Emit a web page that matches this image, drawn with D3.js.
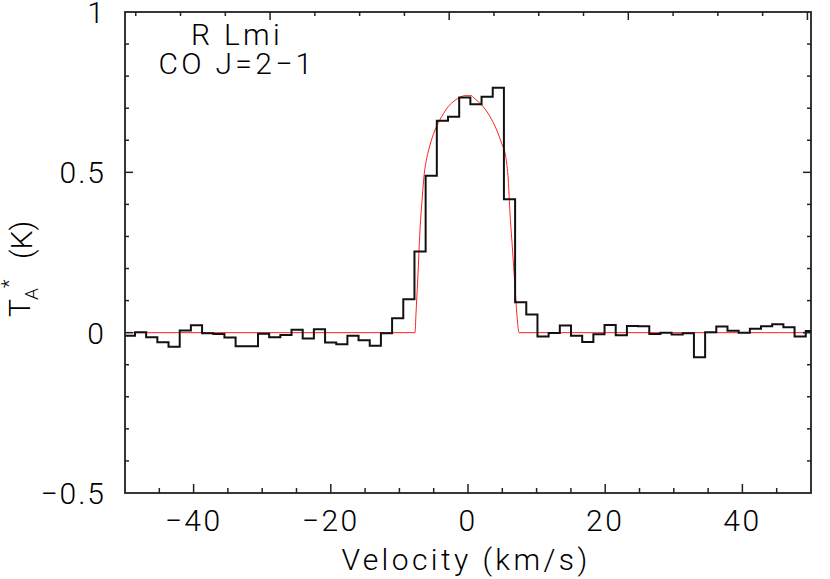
<!DOCTYPE html>
<html><head><meta charset="utf-8">
<script src="https://cdn.jsdelivr.net/npm/d3@7"></script>
<style>
body{margin:0;background:#fff}
text{font-family:Roboto,'DejaVu Sans',sans-serif;font-weight:300;fill:#000}
</style>
</head><body><svg id="c" width="830" height="579"></svg>
<script>
// Channel centre velocities (km/s)
const velocity = [-49.36,-47.73,-46.10,-44.47,-42.84,-41.21,-39.58,-37.95,-36.32,-34.69,
  -33.06,-31.43,-29.80,-28.17,-26.54,-24.91,-23.28,-21.65,-20.02,-18.39,
  -16.77,-15.14,-13.51,-11.88,-10.25,-8.62,-6.99,-5.36,-3.73,-2.10,
  -0.47,1.16,2.79,4.42,6.05,7.68,9.31,10.94,12.57,14.20,
  15.83,17.46,19.09,20.72,22.35,23.98,25.61,27.24,28.86,30.49,
  32.12,33.75,35.38,37.01,38.64,40.27,41.90,43.53,45.16,46.79,48.42,50.05];
// Antenna temperature T_A* (K)
const antennaTemp = [-0.010,0.001,-0.014,-0.030,-0.044,0.007,0.023,-0.002,-0.004,-0.015,
  -0.042,-0.042,-0.003,-0.014,-0.007,0.009,-0.018,0.011,-0.031,-0.036,
  -0.010,-0.024,-0.041,-0.002,0.045,0.104,0.253,0.489,0.661,0.673,
  0.733,0.712,0.736,0.764,0.416,0.095,0.057,-0.012,-0.001,0.022,
  -0.010,-0.029,-0.005,0.024,-0.008,0.021,0.020,-0.004,0.000,-0.006,
  -0.002,-0.077,0.001,0.019,0.006,0.000,0.012,0.020,0.026,0.017,-0.012,0.005];
// Fitted model profile (red)
const modelVelocity = [-50,-7.73,-7.58,-7.33,-7.00,-6.66,-6.37,-6.02,-5.54,-4.81,-3.83,-2.87,-1.65,-0.44,
  0.54,0.77,2.00,3.21,4.18,4.91,5.50,5.87,6.12,6.46,6.85,7.19,7.43,50];
const modelTemp = [0,0,0.06,0.164,0.320,0.424,0.497,0.543,0.585,0.632,0.674,0.705,0.728,0.739,
  0.739,0.734,0.710,0.674,0.632,0.590,0.549,0.476,0.372,0.268,0.143,0.040,0,0];

const xDomain = [-50, 50];
const yDomain = [-0.5, 1];
const xTickValues = [-40,-20,0,20,40];
const xTickLabels = ["−40","−20","0","20","40"];
const yTickValues = [-0.5,0,0.5,1];
const yTickLabels = ["−0.5","0","0.5","1"];
const topDomain = [-16.2, 60.4]; // frequency offset (MHz), unlabeled top axis
const titleLines = ["R Lmi","CO J=2−1"];

const L=125, R=811, T=12, B=493;
const svg = d3.select("#c");
const x = d3.scaleLinear().domain(xDomain).range([L,R]);
const y = d3.scaleLinear().domain(yDomain).range([B,T]);
const xt = d3.scaleLinear().domain(topDomain).range([L,R]);

svg.append("defs").append("clipPath").attr("id","clip")
  .append("rect").attr("x",L).attr("y",T).attr("width",R-L).attr("height",B-T);

// model
svg.append("path")
  .datum(modelVelocity.map((v,i)=>[v,modelTemp[i]]))
  .attr("clip-path","url(#clip)")
  .attr("fill","none").attr("stroke","#ff2020").attr("stroke-width",1)
  .attr("d", d3.line().x(d=>x(d[0])).y(d=>y(d[1])).curve(d3.curveMonotoneX));

// histogram
const pts = [];
velocity.forEach((v,i)=>{
  const lw = i>0 ? (v-velocity[i-1])/2 : (velocity[1]-velocity[0])/2;
  const rw = i<velocity.length-1 ? (velocity[i+1]-v)/2 : (v-velocity[i-1])/2;
  pts.push([v-lw, antennaTemp[i]]); pts.push([v+rw, antennaTemp[i]]);
});
svg.append("path").datum(pts)
  .attr("clip-path","url(#clip)")
  .attr("fill","none").attr("stroke","#111").attr("stroke-width",2)
  .attr("stroke-linejoin","miter")
  .attr("d", d3.line().x(d=>x(d[0])).y(d=>y(d[1])));

// ticks
const tk = svg.append("g").attr("stroke","#222").attr("stroke-width",1.5);
d3.range(-45,50,5).forEach(v=>{
  const maj = xTickValues.includes(v);
  tk.append("line").attr("x1",x(v)).attr("x2",x(v)).attr("y1",B).attr("y2",B-(maj?9:5));
});
d3.range(-15,61,5).forEach(f=>{
  if (xt(f)<L+2||xt(f)>R) return;
  const maj = f%20===0;
  tk.append("line").attr("x1",xt(f)).attr("x2",xt(f)).attr("y1",T).attr("y2",T+(maj?8:4));
});
d3.range(-4,10).forEach(j=>{
  const v=j/10; const maj = Math.abs(v*2-Math.round(v*2))<1e-6;
  const len = maj?8:4;
  tk.append("line").attr("x1",L).attr("x2",L+len).attr("y1",y(v)).attr("y2",y(v));
  tk.append("line").attr("x1",R).attr("x2",R-len).attr("y1",y(v)).attr("y2",y(v));
});

// frame
svg.append("rect").attr("x",L).attr("y",T).attr("width",R-L).attr("height",B-T)
  .attr("fill","none").attr("stroke","#222").attr("stroke-width",1.8);

// tick labels
const fs = 30;
xTickValues.forEach((v,i)=>{
  svg.append("text").attr("x",x(v)).attr("y",531).attr("text-anchor","middle")
    .attr("font-size",fs).attr("letter-spacing",2.5).text(xTickLabels[i]);
});
yTickValues.forEach((v,i)=>{
  svg.append("text").attr("x",106).attr("y",Math.max(y(v)+11,23)).attr("text-anchor","end")
    .attr("font-size",fs).attr("letter-spacing",2).text(yTickLabels[i]);
});

// axis titles
svg.append("text").attr("x",466).attr("y",570).attr("text-anchor","middle")
  .attr("font-size",fs).attr("letter-spacing",3.4).text("Velocity (km/s)");
function rot(sx, sy, size, txt){
  svg.append("text").attr("transform",`translate(${sx},${sy}) rotate(-90)`)
    .attr("font-size",size).text(txt);
}
rot(30, 317, fs, "T");
rot(38, 300, 19, "A");
rot(16, 288, 20, "*");
rot(32, 259, fs, "(K)");

// title
titleLines.forEach((t,i)=>{
  svg.append("text").attr("x",237).attr("y",45+i*29).attr("text-anchor","middle")
    .attr("font-size",fs).attr("letter-spacing",3.3).text(t);
});
</script></body></html>
